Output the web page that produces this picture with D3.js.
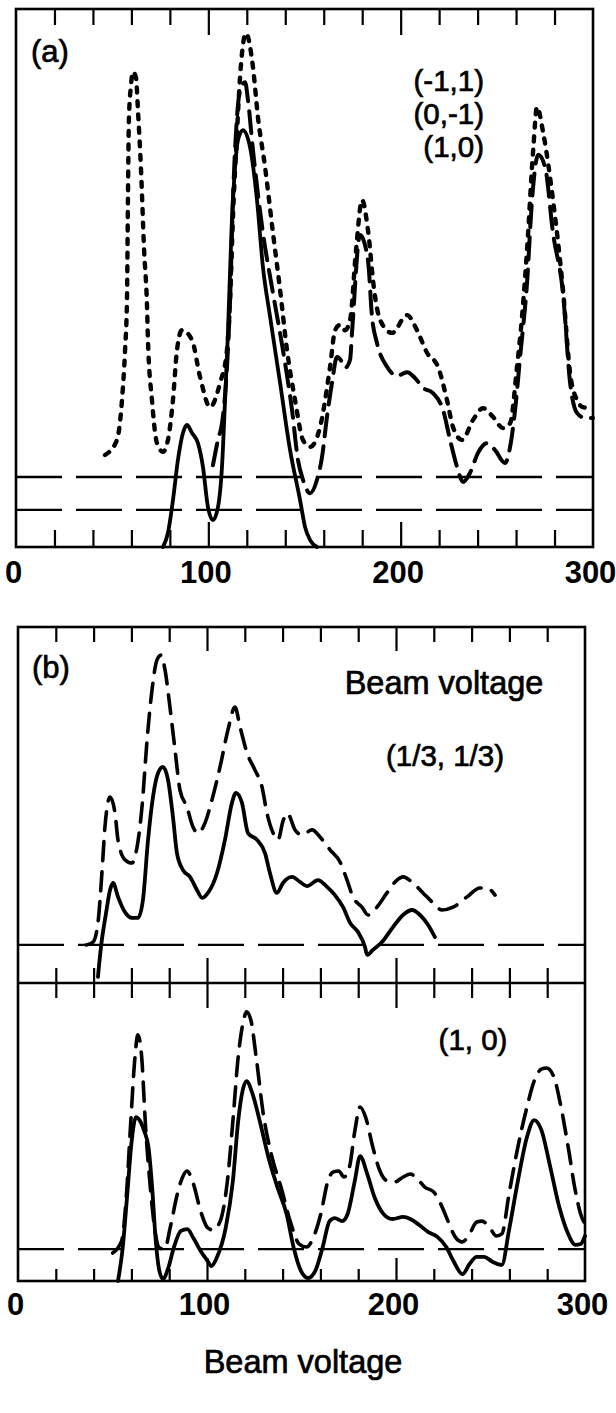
<!DOCTYPE html>
<html>
<head>
<meta charset="utf-8">
<script src="https://cdn.jsdelivr.net/npm/d3@7"></script>
<style>
html, body { margin: 0; padding: 0; background: #fff; }
svg { display: block; }
text { font-family: "Liberation Sans", Arial, Helvetica, sans-serif; fill: #000; }
</style>
</head>
<body>
<svg id="chart" width="616" height="1413"></svg>
<script>
// beam voltage axis
const voltLabels = [0, 100, 200, 300];
const minorTicks = [20, 40, 60, 80, 120, 140, 160, 180, 220, 240, 260, 280];
const majorTicks = [100, 200];

// panel (a): [voltage, intensity]
const aMinus11 = [[46.3,17.1],[52.5,19.9],[55.1,27.3],[56.7,36.6],[57.7,45.9],[58.2,64.5],[58.7,79.4],[59.8,85.9],[60.8,88.3],[62.4,87.2],[63.4,81.2],[65.0,70.1],[66.6,55.2],[68.1,45.0],[68.6,38.5],[70.7,27.3],[73.3,19.3],[76.4,17.7],[79.0,19.9],[81.6,27.3],[83.7,36.6],[86.3,40.3],[91.5,38.5],[95.7,31.6],[100.9,26.0],[106.1,30.5],[109.7,36.6],[111.3,45.9],[112.8,61.3],[114.9,77.0],[116.5,87.4],[119.6,95.5],[123.2,89.2],[125.8,79.9],[129.5,70.6],[133.6,58.4],[137.3,47.8],[140.9,36.6],[145.1,27.3],[149.2,19.9],[152.9,18.6],[158.1,22.3],[163.3,33.5],[165.9,40.3],[168.5,41.3],[171.1,40.3],[173.7,42.2],[176.8,55.2],[179.9,64.5],[183.0,58.9],[186.2,47.8],[189.3,42.2],[195.5,39.8],[203.3,43.1],[208.5,40.3],[213.7,36.1],[219.4,33.5],[224.1,27.3],[227.2,22.3],[231.9,19.9],[237.6,23.6],[242.8,25.8],[248.0,24.2],[253.2,22.1],[256.9,23.0],[260.5,33.5],[263.1,42.8],[265.7,55.2],[268.9,73.8],[270.9,81.8],[274.1,77.0],[279.2,64.5],[284.4,47.8],[288.1,32.3],[291.7,27.3],[294.8,26.0],[299.5,25.8]];
const a0Minus1 = [[102.4,15.2],[105.0,19.9],[107.1,23.0],[109.7,33.5],[111.3,45.9],[112.8,64.5],[114.9,79.9],[116.5,84.9],[119.1,86.4],[120.6,83.1],[123.2,73.8],[128.4,58.4],[133.6,47.2],[138.8,36.6],[143.5,25.5],[146.6,16.2],[149.2,12.5],[152.9,10.0],[156.5,12.5],[159.1,16.7],[161.7,24.2],[164.3,30.5],[166.9,35.3],[169.5,34.4],[171.1,33.3],[173.7,34.8],[174.7,39.8],[178.9,58.0],[183.0,53.3],[185.1,42.8],[187.7,37.9],[192.9,33.5],[198.1,31.8],[203.3,32.5],[207.5,31.4],[211.6,29.6],[216.8,28.6],[222.0,25.5],[225.7,19.9],[229.3,14.9],[232.4,12.1],[236.1,13.8],[240.2,17.5],[244.9,19.3],[249.1,18.0],[254.3,15.6],[256.9,18.6],[259.5,25.5],[262.1,35.3],[265.7,49.1],[268.3,64.5],[271.5,72.9],[275.1,70.6],[279.2,58.4],[284.4,47.2],[288.1,30.5],[291.7,24.9],[295.9,24.0],[300,24.0]];
const a10 = [[76.4,0],[79.0,2.6],[81.6,8.7],[84.2,16.2],[86.8,21.2],[88.9,22.7],[91.5,21.2],[94.6,19.3],[97.2,14.9],[99.8,7.4],[102.4,5.0],[105.0,7.4],[107.1,14.9],[108.7,27.3],[110.2,39.8],[112.3,61.3],[113.9,70.6],[115.4,75.6],[118.0,77.5],[121.7,74.3],[125.3,64.5],[128.4,52.0],[132.1,42.8],[137.3,30.5],[142.5,18.0],[147.7,8.7],[150.3,3.7],[152.9,1.3],[156.5,0]];
const aBaselines = [13.0, 6.9];
const aLabels = ["(-1,1)", "(0,-1)", "(1,0)"];

// panel (b), upper: (1/3,1/3)
const bThirdDash = [[36,10.7],[39.7,11.5],[42.3,16.9],[44.4,30.9],[46.0,43.8],[48.7,52.2],[51.3,47.8],[52.9,40.2],[56.6,34.6],[60.3,33.7],[63.0,38.2],[65.6,49.4],[68.3,68.3],[70.9,82.3],[73.5,90.7],[75.7,92.1],[77.8,87.9],[80.4,77.5],[83.1,65.4],[85.7,54.2],[89.4,49.4],[92.6,43.8],[95.2,42.1],[98.9,44.9],[102.6,51.4],[106.9,60.7],[111.1,71.1],[114.8,77.5],[117.5,71.9],[121.2,64.6],[125.4,59.8],[129.1,55.1],[131.7,47.8],[135.0,42.1],[137.6,40.2],[140.2,45.5],[142.6,47.6],[146.6,43.0],[150.3,41.6],[155.6,43.0],[159.8,41.0],[165.1,37.4],[170.4,34.0],[174.1,28.9],[177.2,24.2],[182.0,21.3],[185.2,19.1],[189.9,21.3],[195.2,25.3],[200.5,28.9],[203.7,29.8],[209.0,28.1],[214.3,25.3],[219.6,22.5],[224.3,20.5],[230.2,21.3],[237.6,24.2],[244.4,26.7],[248.1,26.7],[252.4,24.7]];
const bThirdSolid = [[42.3,1.7],[43.9,10.1],[46.6,19.7],[48.7,26.1],[50.3,28.1],[52.9,24.2],[56.6,19.9],[60.3,18.3],[63.5,18.3],[66.1,23.3],[68.8,40.2],[71.4,52.2],[74.1,59.0],[76.7,60.7],[79.4,57.0],[82.0,46.6],[84.1,36.5],[87.3,31.7],[91.0,29.8],[94.7,26.1],[97.4,23.9],[100.5,25.3],[105.3,30.9],[109.5,40.2],[113.2,50.6],[115.3,53.4],[118.5,50.6],[121.7,42.1],[126.5,40.2],[130.7,36.5],[133.3,30.9],[137.0,25.3],[140.2,28.1],[145.0,29.8],[149.2,28.4],[152.9,27.2],[158.7,28.9],[163.5,27.0],[167.7,24.7],[172.0,21.3],[175.7,16.9],[179.9,14.3],[183.6,10.1],[184.7,7.9],[187.8,9.3],[192.6,11.5],[198.4,15.7],[203.7,19.1],[208.5,20.5],[212.7,19.1],[217.0,16.3],[220.6,12.9]];
const bThirdBaseline = 10.7;

// panel (b), lower: (1,0)
const b10Dash = [[50.1,9.4],[54.8,13.4],[57.3,28.2],[59.6,52.7],[61.9,75.2],[63.4,82.6],[65.3,76.2],[67.6,50.7],[70.0,31.5],[72.5,16.8],[74.8,11.1],[77.6,10.7],[80.5,17.8],[84.3,29.2],[87.1,34.9],[89.4,36.9],[92.8,32.6],[96.6,23.5],[100.4,17.8],[103.2,17.1],[107.0,20.1],[110.8,33.6],[113.7,53.7],[116.5,75.2],[119.4,87.6],[120.9,90.3],[123.2,87.6],[126.0,75.2],[129.8,56.0],[134.5,41.3],[139.3,31.2],[144.0,20.1],[148.8,12.4],[152.6,11.4],[156.4,14.8],[160.2,22.5],[164.0,33.6],[166.8,36.6],[169.7,36.9],[172.5,34.9],[175.4,38.3],[178.2,50.3],[181.0,58.4],[183.9,55.0],[187.7,45.0],[191.5,36.9],[195.3,33.6],[199.1,33.2],[203.8,34.9],[207.6,35.9],[211.4,34.2],[215.2,31.5],[219.9,29.9],[223.7,25.8],[227.5,20.1],[231.3,14.8],[235.1,13.1],[238.9,15.8],[242.7,19.8],[245.5,20.1],[249.4,18.1],[253.1,15.1],[256.0,15.8],[259.8,29.2],[264.5,45.0],[269.3,58.4],[273.1,67.1],[276.9,71.1],[279.7,71.5],[283.5,68.5],[287.3,58.4],[291.1,45.0],[294.9,30.2],[297.7,22.5],[300,19.1]];
const b10Solid = [[52.9,0],[55.4,11.1],[57.7,28.2],[60.2,47.3],[62.4,55.0],[64.3,54.0],[66.8,50.3],[69.1,44.6],[71.0,31.2],[72.9,13.4],[74.8,3.4],[76.7,0.7],[79.5,4.4],[82.4,11.1],[86.2,16.8],[89.6,17.4],[92.8,14.4],[96.6,10.1],[100.4,6.7],[102.3,5.0],[105.1,7.7],[109.9,17.8],[113.7,33.6],[116.5,53.7],[118.8,63.8],[120.9,67.1],[124.1,62.8],[127.9,53.7],[132.6,41.3],[137.4,31.2],[142.1,22.5],[145.9,11.1],[149.7,3.4],[153.5,1.0],[157.3,3.4],[161.1,11.1],[164.9,20.1],[167.7,21.1],[171.5,20.1],[174.4,22.5],[178.2,33.6],[181.0,41.9],[184.8,35.9],[188.6,28.2],[193.4,22.5],[198.1,20.8],[203.8,21.5],[207.6,20.8],[212.3,18.8],[217.1,16.4],[221.9,14.8],[226.6,11.4],[230.4,6.7],[235.2,2.3],[238.9,5.7],[242.7,8.1],[246.5,8.1],[251.2,6.4],[256.0,5.4],[259.8,17.1],[264.5,33.6],[269.3,48.3],[273.1,54.0],[276.9,50.7],[281.6,38.3],[286.4,24.8],[291.1,15.8],[294.9,12.1],[297.7,12.4],[300,15.1]];
const b10Baseline = 10.7;

const svg = d3.select("#chart");

const xA = d3.scaleLinear().domain([0, 300]).range([16, 593]);
const yA = d3.scaleLinear().domain([0, 100]).range([547, 9]);
const xB = d3.scaleLinear().domain([0, 300]).range([18, 585]);
const yB1 = d3.scaleLinear().domain([0, 100]).range([983, 627]);
const yB2 = d3.scaleLinear().domain([0, 100]).range([1281, 983]);

const styles = {
  dot:   { w: 4.4, dash: "5 8.5" },
  dashA: { w: 4.0, dash: "22 10" },
  dashB: { w: 3.6, dash: "19 11" },
  solid: { w: 3.8, dash: null }
};

function curve(data, x, y, st) {
  const line = d3.line()
    .x(d => x(d[0]))
    .y(d => y(d[1]))
    .curve(d3.curveMonotoneX);
  svg.append("path")
    .datum(data)
    .attr("d", line)
    .attr("fill", "none")
    .attr("stroke", "#000")
    .attr("stroke-width", st.w)
    .attr("stroke-linecap", "round")
    .attr("stroke-linejoin", "round")
    .attr("stroke-dasharray", st.dash);
}

function baseline(val, x, y) {
  svg.append("line")
    .attr("x1", x.range()[0]).attr("x2", x.range()[1])
    .attr("y1", y(val)).attr("y2", y(val))
    .attr("stroke", "#000")
    .attr("stroke-width", 2.4)
    .attr("stroke-dasharray", "46 14");
}

// tick marks; down = true points into the panel from above
function tickRow(x, y0, down, minorLen, majorLen) {
  const mk = down ? d3.axisBottom : d3.axisTop;
  [[minorTicks, minorLen], [majorTicks, majorLen]].forEach(([vals, len]) => {
    const g = svg.append("g")
      .attr("transform", "translate(0," + y0 + ")")
      .call(mk(x).tickValues(vals).tickSize(len).tickFormat(""));
    g.select(".domain").remove();
    g.selectAll("line").attr("stroke-width", 2.2);
  });
}

function tickLabels(x, y0, pad) {
  const g = svg.append("g")
    .attr("transform", "translate(-3," + y0 + ")")
    .call(d3.axisBottom(x).tickValues(voltLabels).tickSize(0).tickPadding(pad));
  g.select(".domain").remove();
  g.selectAll("text")
    .attr("font-family", "Liberation Sans, Arial, sans-serif")
    .attr("font-size", 31)
    .attr("font-weight", "bold")
    .attr("fill", "#000");
}

function label(str, x, y, anchor, size) {
  svg.append("text")
    .attr("x", x).attr("y", y)
    .attr("text-anchor", anchor || "start")
    .attr("font-size", size || 29.5)
    .attr("stroke", "#000")
    .attr("stroke-width", 0.7)
    .text(str);
}

function frame(x, y) {
  svg.append("rect")
    .attr("x", x.range()[0]).attr("y", y.range()[1])
    .attr("width", x.range()[1] - x.range()[0])
    .attr("height", y.range()[0] - y.range()[1])
    .attr("fill", "none")
    .attr("stroke", "#000")
    .attr("stroke-width", 2.6);
}

// ---- panel (a)
aBaselines.forEach(v => baseline(v, xA, yA));
curve(aMinus11, xA, yA, styles.dot);
curve(a0Minus1, xA, yA, styles.dashA);
curve(a10, xA, yA, styles.solid);
frame(xA, yA);
tickRow(xA, 9, true, 16, 26);
tickRow(xA, 547, false, 17, 25);
tickLabels(xA, 547, 14);
label("(a)", 31, 62, "start", 31);
aLabels.forEach((t, i) => label(t, 484, 91 + i * 33, "end"));

// ---- panel (b)
baseline(bThirdBaseline, xB, yB1);
baseline(b10Baseline, xB, yB2);
curve(bThirdDash, xB, yB1, styles.dashB);
curve(bThirdSolid, xB, yB1, styles.solid);
curve(b10Dash, xB, yB2, styles.dashB);
curve(b10Solid, xB, yB2, styles.solid);
svg.append("rect")
  .attr("x", 18).attr("y", 627).attr("width", 567).attr("height", 654)
  .attr("fill", "none").attr("stroke", "#000").attr("stroke-width", 2.6);
svg.append("line")
  .attr("x1", 18).attr("x2", 585).attr("y1", 983).attr("y2", 983)
  .attr("stroke", "#000").attr("stroke-width", 2.6);
tickRow(xB, 627, true, 15, 24);
tickRow(xB, 983, true, 15, 25);
tickRow(xB, 983, false, 15, 25);
tickRow(xB, 1281, false, 12, 23);
tickLabels(xB, 1281, 12);
label("(b)", 32, 678, "start", 31);
label("Beam voltage", 444, 694, "middle", 32.5);
label("(1/3, 1/3)", 445, 766, "middle");
label("(1, 0)", 473, 1050, "middle");

label("Beam voltage", 303, 1373, "middle", 32.5);
</script>
</body>
</html>
